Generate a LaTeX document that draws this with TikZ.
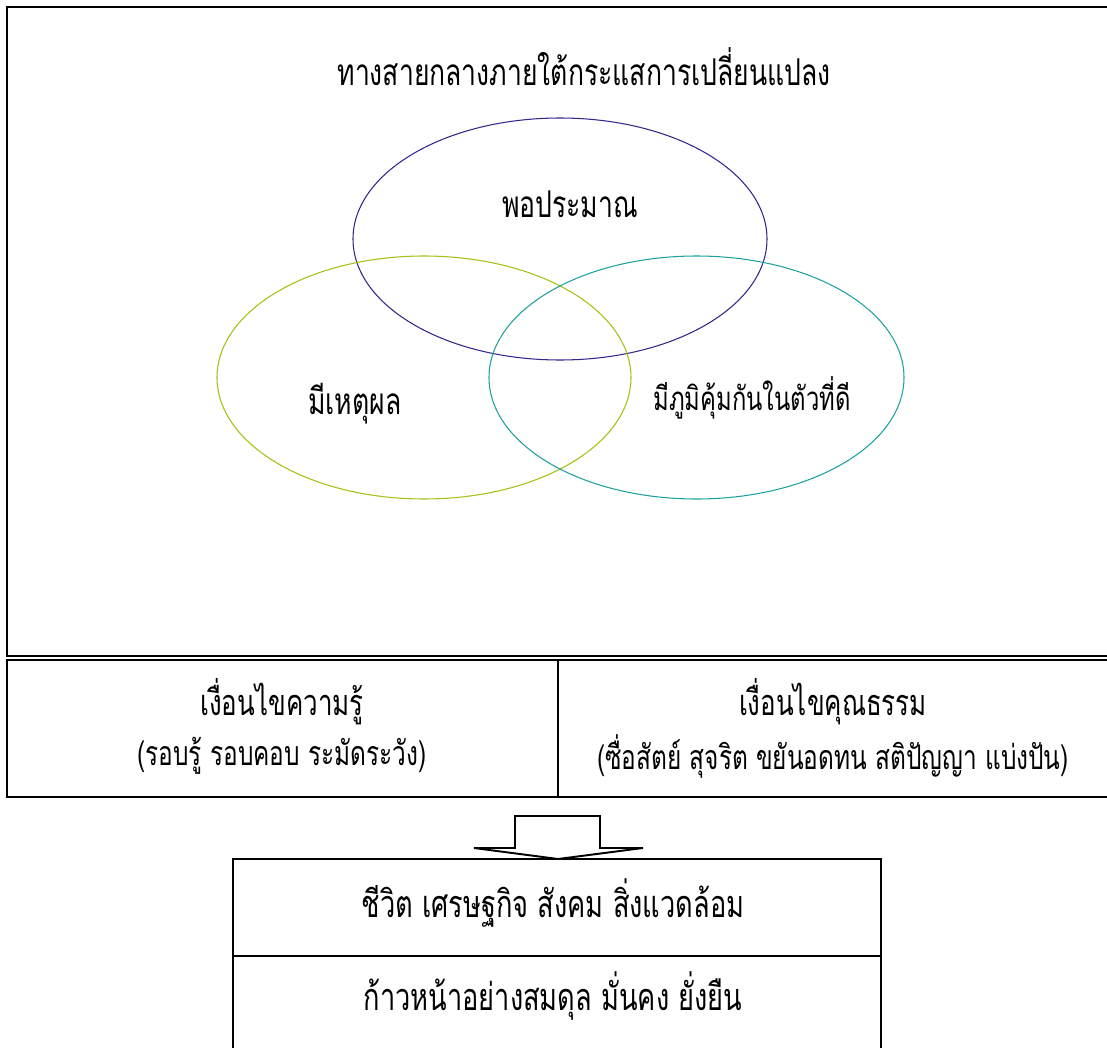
\documentclass[tikz,border=0pt]{standalone}
\usepackage{fontspec}
\newfontfamily\thai[Script=Thai,FakeStretch=0.72]{Loma}
\usetikzlibrary{shapes.geometric}
\definecolor{navy}{RGB}{50,40,140}
\definecolor{lime}{RGB}{160,195,20}
\definecolor{tealc}{RGB}{30,160,160}
\tikzset{
  frame/.style={draw=black,line width=1.3pt},
  ell/.style={draw,line width=0.6pt},
  txt/.style={font=\thai\fontsize{#1}{#1}\selectfont,inner sep=0pt},
}
\begin{document}
\begin{tikzpicture}[x=0.02cm,y=-0.02cm]
\useasboundingbox (0,0) rectangle (1107,1048);
\clip (0,0) rectangle (1107,1048);
\fill[white] (0,0) rectangle (1107,1048);
% top frame
\draw[frame] (7,7) rectangle (1120,656);
\node[txt=21] (title) at (584,67) {ทางสายกลางภายใต้กระแสการเปลี่ยนแปลง};
% ellipses
\draw[ell,navy] (560,239) ellipse [x radius=207, y radius=121];
\draw[ell,lime] (424,377.5) ellipse [x radius=207, y radius=121.5];
\draw[ell,tealc] (696.5,377.5) ellipse [x radius=207.5, y radius=121.5];
\node[txt=21] (e1) at (570,204) {พอประมาณ};
\node[txt=21] (e2) at (355,404) {มีเหตุผล};
\node[txt=18.8] (e3) at (752,398) {มีภูมิคุ้มกันในตัวที่ดี};
% table
\draw[frame] (7,660) rectangle (1120,797);
\draw[frame] (558,660) -- (558,797);
\node[txt=20.5] (k1) at (282,702) {เงื่อนไขความรู้};
\node[txt=19.3] (k2) at (282,756) {(รอบรู้ รอบคอบ ระมัดระวัง)};
\node[txt=20.5] (m1) at (833,702) {เงื่อนไขคุณธรรม};
\node[txt=19.3] (m2) at (833,756) {(ซื่อสัตย์ สุจริต ขยันอดทน สติปัญญา แบ่งปัน)};
% arrow
\draw[line width=1.1pt,line join=miter] (515,848) -- (515,816) -- (600,816) -- (600,848) -- (643,848) -- (558,859) -- (474,848) -- cycle;
% bottom box
\draw[frame] (233,859) rectangle (881,1060);
\draw[frame] (233,956) -- (881,956);
\node[txt=21.5] (b1) at (553,903) {ชีวิต เศรษฐกิจ สังคม สิ่งแวดล้อม};
\node[txt=21.5] (b2) at (553,996) {ก้าวหน้าอย่างสมดุล มั่นคง ยั่งยืน};
\end{tikzpicture}
\end{document}
